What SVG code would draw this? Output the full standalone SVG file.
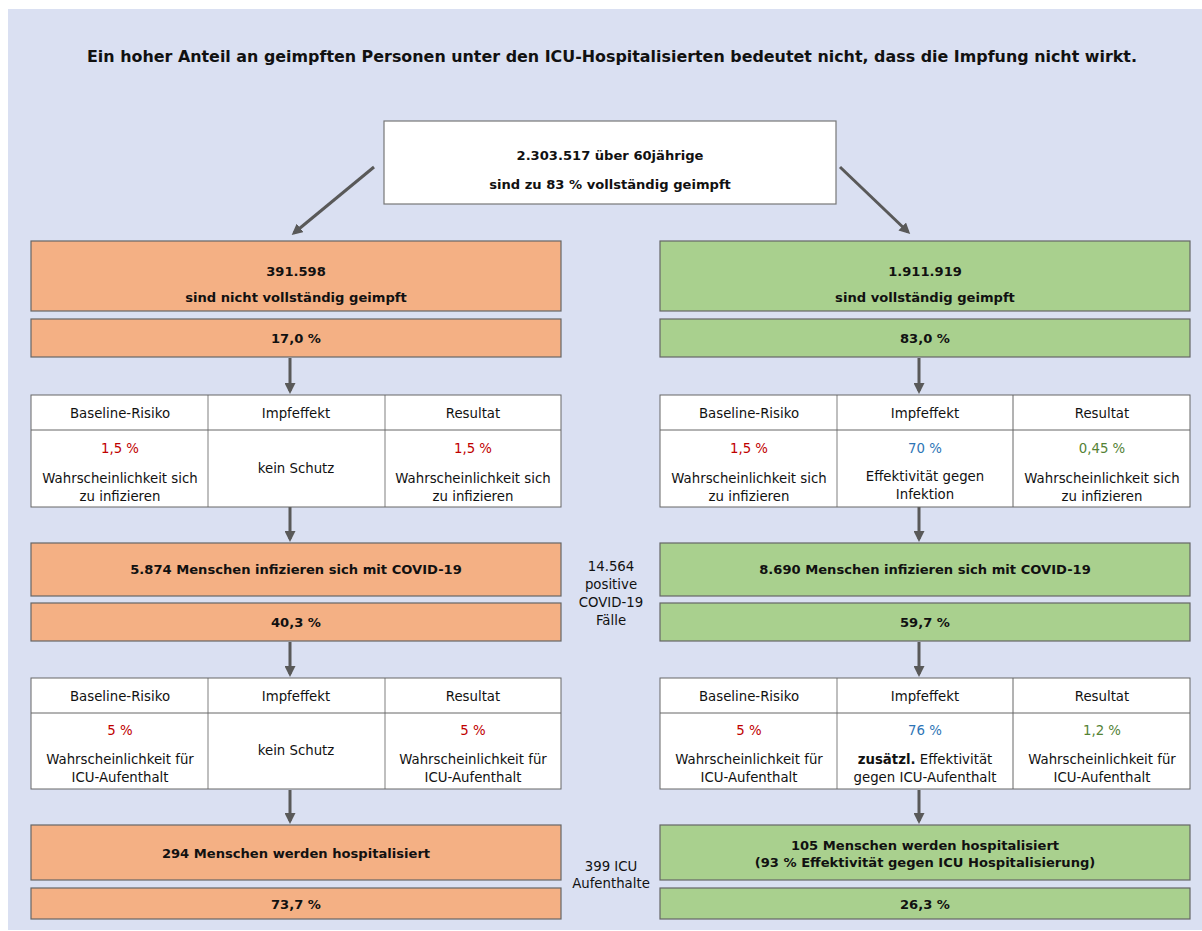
<svg xmlns="http://www.w3.org/2000/svg" width="1202" height="931" viewBox="0 0 1202 931">
<defs>
<marker id="ah" markerWidth="11" markerHeight="11" refX="8" refY="5.5" orient="auto" markerUnits="userSpaceOnUse">
<path d="M0,0 L11,5.5 L0,11 z" fill="#595959"/>
</marker>
<style>
text{font-family:"DejaVu Sans","Liberation Sans",sans-serif;font-size:13.3px;fill:#111;text-anchor:middle}
.b{font-weight:bold;font-size:13.1px}
.title{font-size:15.5px;font-weight:bold}
.or{fill:#f4b084;stroke:#666;stroke-width:1.2}
.gr{fill:#a9d08e;stroke:#666;stroke-width:1.2}
.wb{fill:#fff;stroke:#777;stroke-width:1.2}
.tl{stroke:#666;stroke-width:1;fill:none}
.tv{stroke:#aaa;stroke-width:1.5}
.red{fill:#c00000}
.blue{fill:#2e75b6}
.grn{fill:#548235}
.con{stroke:#595959;stroke-width:3;fill:none;marker-end:url(#ah)}
</style>
</defs>
<rect x="8" y="9" width="1194" height="921" fill="#dae0f2"/>
<text class="title" x="612" y="62" textLength="1050" lengthAdjust="spacingAndGlyphs">Ein hoher Anteil an geimpften Personen unter den ICU-Hospitalisierten bedeutet nicht, dass die Impfung nicht wirkt.</text>

<g id="connectors">
<line class="con" x1="374" y1="167" x2="294" y2="233"/>
<line class="con" x1="840" y1="167" x2="908" y2="232"/>
<line class="con" x1="290" y1="358" x2="290" y2="391"/>
<line class="con" x1="919" y1="358" x2="919" y2="391"/>
<line class="con" x1="290" y1="507" x2="290" y2="539"/>
<line class="con" x1="919" y1="507" x2="919" y2="539"/>
<line class="con" x1="290" y1="642" x2="290" y2="674"/>
<line class="con" x1="919" y1="642" x2="919" y2="674"/>
<line class="con" x1="290" y1="790" x2="290" y2="821"/>
<line class="con" x1="919" y1="790" x2="919" y2="821"/>
</g>

<g id="top">
<rect class="wb" x="384" y="121" width="452" height="83"/>
<text class="b" x="610" y="160">2.303.517 über 60jährige</text>
<text class="b" x="610" y="189">sind zu 83 % vollständig geimpft</text>
</g>

<g id="left-group">
<rect class="or" x="31" y="241" width="530" height="70"/>
<text class="b" x="296" y="276">391.598</text>
<text class="b" x="296" y="302">sind nicht vollständig geimpft</text>
</g>
<g id="left-pct1">
<rect class="or" x="31" y="319" width="530" height="38"/>
<text class="b" x="296" y="343">17,0 %</text>
</g>

<g id="right-group">
<rect class="gr" x="660" y="241" width="530" height="70"/>
<text class="b" x="925" y="276">1.911.919</text>
<text class="b" x="925" y="302">sind vollständig geimpft</text>
</g>
<g id="right-pct1">
<rect class="gr" x="660" y="319" width="530" height="38"/>
<text class="b" x="925" y="343">83,0 %</text>
</g>

<g id="left-table1">
<rect x="31" y="395" width="530" height="112" fill="#fff"/>
<line class="tv" x1="208" y1="395" x2="208" y2="507"/>
<line class="tv" x1="385" y1="395" x2="385" y2="507"/>
<line class="tl" x1="31" y1="430" x2="561" y2="430"/>
<rect class="tl" x="31" y="395" width="530" height="112"/>
<text x="120" y="418">Baseline-Risiko</text>
<text x="296" y="418">Impfeffekt</text>
<text x="473" y="418">Resultat</text>
<text class="red" x="120" y="453">1,5 %</text>
<text x="120" y="483">Wahrscheinlichkeit sich</text>
<text x="120" y="501">zu infizieren</text>
<text x="296" y="473">kein Schutz</text>
<text class="red" x="473" y="453">1,5 %</text>
<text x="473" y="483">Wahrscheinlichkeit sich</text>
<text x="473" y="501">zu infizieren</text>
</g>

<g id="right-table1">
<rect x="660" y="395" width="530" height="112" fill="#fff"/>
<line class="tv" x1="837" y1="395" x2="837" y2="507"/>
<line class="tl" x1="1013" y1="395" x2="1013" y2="507"/>
<line class="tl" x1="660" y1="430" x2="1190" y2="430"/>
<rect class="tl" x="660" y="395" width="530" height="112"/>
<text x="749" y="418">Baseline-Risiko</text>
<text x="925" y="418">Impfeffekt</text>
<text x="1102" y="418">Resultat</text>
<text class="red" x="749" y="453">1,5 %</text>
<text x="749" y="483">Wahrscheinlichkeit sich</text>
<text x="749" y="501">zu infizieren</text>
<text class="blue" x="925" y="453">70 %</text>
<text x="925" y="481">Effektivität gegen</text>
<text x="925" y="499">Infektion</text>
<text class="grn" x="1102" y="453">0,45 %</text>
<text x="1102" y="483">Wahrscheinlichkeit sich</text>
<text x="1102" y="501">zu infizieren</text>
</g>

<g id="left-infected">
<rect class="or" x="31" y="543" width="530" height="53"/>
<text class="b" x="296" y="574">5.874 Menschen infizieren sich mit COVID-19</text>
</g>
<g id="left-pct2">
<rect class="or" x="31" y="603" width="530" height="38"/>
<text class="b" x="296" y="627">40,3 %</text>
</g>
<g id="right-infected">
<rect class="gr" x="660" y="543" width="530" height="53"/>
<text class="b" x="925" y="574">8.690 Menschen infizieren sich mit COVID-19</text>
</g>
<g id="right-pct2">
<rect class="gr" x="660" y="603" width="530" height="38"/>
<text class="b" x="925" y="627">59,7 %</text>
</g>

<g id="mid-cases">
<text x="611" y="571">14.564</text>
<text x="611" y="589">positive</text>
<text x="611" y="607">COVID-19</text>
<text x="611" y="625">Fälle</text>
</g>

<g id="left-table2">
<rect x="31" y="678" width="530" height="111" fill="#fff"/>
<line class="tv" x1="208" y1="678" x2="208" y2="789"/>
<line class="tv" x1="385" y1="678" x2="385" y2="789"/>
<line class="tl" x1="31" y1="713" x2="561" y2="713"/>
<rect class="tl" x="31" y="678" width="530" height="111"/>
<text x="120" y="701">Baseline-Risiko</text>
<text x="296" y="701">Impfeffekt</text>
<text x="473" y="701">Resultat</text>
<text class="red" x="120" y="735">5 %</text>
<text x="120" y="764">Wahrscheinlichkeit für</text>
<text x="120" y="782">ICU-Aufenthalt</text>
<text x="296" y="755">kein Schutz</text>
<text class="red" x="473" y="735">5 %</text>
<text x="473" y="764">Wahrscheinlichkeit für</text>
<text x="473" y="782">ICU-Aufenthalt</text>
</g>

<g id="right-table2">
<rect x="660" y="678" width="530" height="111" fill="#fff"/>
<line class="tv" x1="837" y1="678" x2="837" y2="789"/>
<line class="tl" x1="1013" y1="678" x2="1013" y2="789"/>
<line class="tl" x1="660" y1="713" x2="1190" y2="713"/>
<rect class="tl" x="660" y="678" width="530" height="111"/>
<text x="749" y="701">Baseline-Risiko</text>
<text x="925" y="701">Impfeffekt</text>
<text x="1102" y="701">Resultat</text>
<text class="red" x="749" y="735">5 %</text>
<text x="749" y="764">Wahrscheinlichkeit für</text>
<text x="749" y="782">ICU-Aufenthalt</text>
<text class="blue" x="925" y="735">76 %</text>
<text x="925" y="764"><tspan font-weight="bold">zusätzl.</tspan> Effektivität</text>
<text x="925" y="782">gegen ICU-Aufenthalt</text>
<text class="grn" x="1102" y="735">1,2 %</text>
<text x="1102" y="764">Wahrscheinlichkeit für</text>
<text x="1102" y="782">ICU-Aufenthalt</text>
</g>

<g id="left-hosp">
<rect class="or" x="31" y="825" width="530" height="55"/>
<text class="b" x="296" y="858">294 Menschen werden hospitalisiert</text>
</g>
<g id="left-pct3">
<rect class="or" x="31" y="888" width="530" height="31"/>
<text class="b" x="296" y="909">73,7 %</text>
</g>
<g id="right-hosp">
<rect class="gr" x="660" y="825" width="530" height="55"/>
<text class="b" x="925" y="850">105 Menschen werden hospitalisiert</text>
<text class="b" x="925" y="867">(93 % Effektivität gegen ICU Hospitalisierung)</text>
</g>
<g id="right-pct3">
<rect class="gr" x="660" y="888" width="530" height="31"/>
<text class="b" x="925" y="909">26,3 %</text>
</g>

<g id="mid-icu">
<text x="611" y="871">399 ICU</text>
<text x="611" y="888">Aufenthalte</text>
</g>
</svg>
